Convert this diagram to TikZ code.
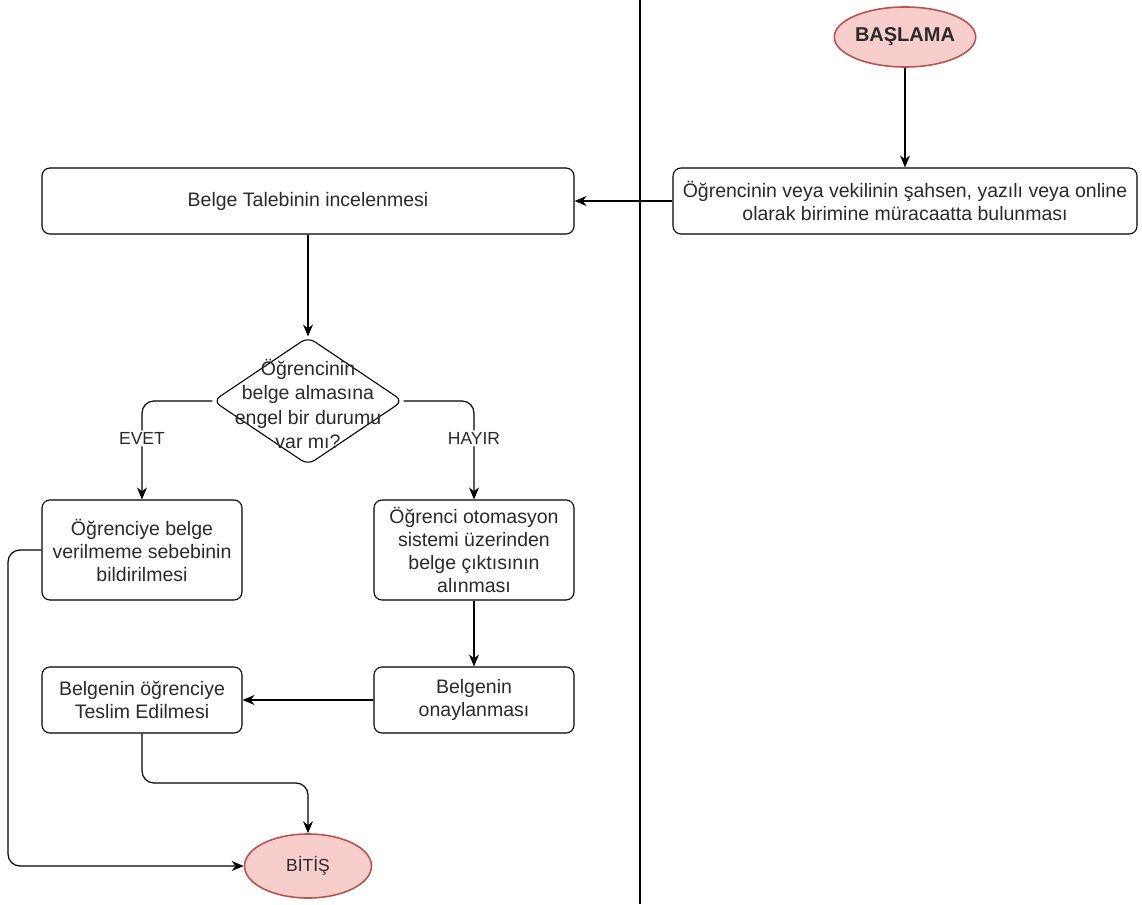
\documentclass[tikz,border=0pt]{standalone}
\usepackage{fontspec}
\setmainfont{Liberation Sans}
\usetikzlibrary{arrows.meta,shapes.geometric}
\definecolor{termfill}{HTML}{F8CECC}
\definecolor{termline}{HTML}{B85450}
\definecolor{txt}{HTML}{2A2A2A}
\tikzset{
  box/.style={draw=black, line width=1.1pt, rounded corners=8pt, fill=white,
    align=center, text=txt, font=\fontsize{19.5}{23}\selectfont, inner sep=1pt},
  term/.style={ellipse, draw=termline, line width=1.6pt, fill=termfill,
    text=txt, inner sep=0pt},
  decision/.style={diamond, draw=black, line width=1.1pt, rounded corners=8pt,
    fill=white, inner sep=0pt},
  flow/.style={draw=black, line width=1.2pt, rounded corners=12pt,
    -{Stealth[length=12pt,width=10pt]}},
  lbl/.style={fill=white, text=txt, font=\fontsize{17.5}{19}\selectfont, inner sep=2pt},
}
\begin{document}
\begin{tikzpicture}[x=1pt,y=-1pt]
\useasboundingbox (0,0) rectangle (1142,904);

% lane divider
\draw[line width=1.8pt] (640,0) -- (640,904);

% terminals
\node[term, minimum width=126pt, minimum height=60pt,
  font=\fontsize{20}{22}\selectfont\bfseries] (start) at (905,37) {BAŞLAMA};
\node[term, minimum width=127pt, minimum height=64pt,
  font=\fontsize{17.5}{20}\selectfont] (end) at (308,866) {BİTİŞ};

% process steps
\node[box, minimum width=464pt, minimum height=66pt] (apply) at (905,201)
  {Öğrencinin veya vekilinin şahsen, yazılı veya online\\olarak birimine müracaatta bulunması};
\node[box, minimum width=532pt, minimum height=66pt] (review) at (308,201)
  {Belge Talebinin incelenmesi};
\node[decision, minimum width=190pt, minimum height=128pt] (check) at (308,401) {};
\node[align=center, text=txt, font=\fontsize{19.5}{24.5}\selectfont, inner sep=0pt]
  (checktext) at (308,404)
  {Öğrencinin\\belge almasına\\engel bir durumu\\var mı?};
\node[box, minimum width=200pt, minimum height=100pt] (reject) at (142,550)
  {Öğrenciye belge\\verilmeme sebebinin\\bildirilmesi};
\node[box, minimum width=200pt, minimum height=100pt] (print) at (474,550)
  {Öğrenci otomasyon\\sistemi üzerinden\\belge çıktısının\\alınması};
\node[box, minimum width=200pt, minimum height=66pt] (approve) at (474,700)
  {Belgenin\\onaylanması};
\node[box, minimum width=200pt, minimum height=66pt] (deliver) at (142,700)
  {Belgenin öğrenciye\\Teslim Edilmesi};

% turning points
\coordinate (yesc) at (142,401);
\coordinate (noc) at (474,401);

% connectors
\draw[flow] (start) -- (apply);
\draw[flow] (apply) -- (review);
\draw[flow] (review) -- (check);
\draw[flow] (check.west) -- (yesc) -- (reject.north)
  node[lbl, pos=0.38] {EVET};
\draw[flow] (check.east) -- (noc) -- (print.north)
  node[lbl, pos=0.38] {HAYIR};
\draw[flow] (print) -- (approve);
\draw[flow] (approve) -- (deliver);
\draw[flow] (deliver.south) -- (142,783) -- (308,783) -- (end.north);
\draw[flow] (reject.west) -- (8,550) -- (8,866) -- (end.west);
\end{tikzpicture}
\end{document}
